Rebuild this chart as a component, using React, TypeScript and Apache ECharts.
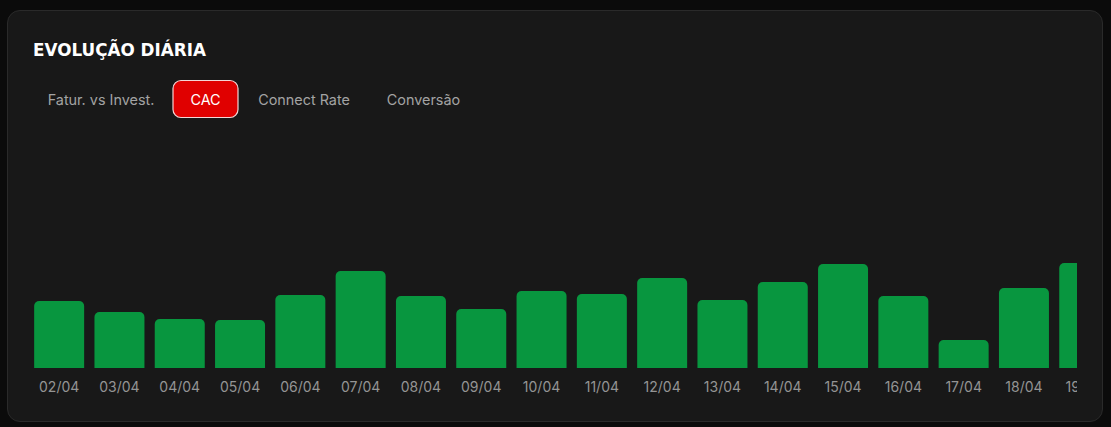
import React, { useEffect, useRef } from "react";
import * as echarts from "echarts";

const days = ["02/04","03/04","04/04","05/04","06/04","07/04","08/04","09/04","10/04","11/04","12/04","13/04","14/04","15/04","16/04","17/04","18/04","19/04"];
const cacValues = [67, 56, 49, 48, 73, 97, 72, 59, 77, 74, 90, 68, 86, 104, 72, 28, 80, 105];
const tabs = ["Fatur. vs Invest.", "CAC", "Connect Rate", "Conversão"];
const activeTab = "CAC";
const yMax = 240;

export default function App() {
  const ref = useRef<HTMLDivElement>(null);
  useEffect(() => {
    if (!ref.current) return;
    const chart = echarts.init(ref.current, null, { renderer: "svg" });
    const tabX = [32, 173, 241, 370];
    const tabW = [138, 65, 126, 107];
    const graphics: any[] = [];
    tabs.forEach((t, i) => {
      const active = t === activeTab;
      if (active) {
        graphics.push({
          type: "rect",
          shape: { x: tabX[i], y: 80.5, width: tabW[i], height: 37, r: 8 },
          style: { fill: "#e00000", stroke: "#f3d6d6", lineWidth: 1.2 },
        });
      }
      graphics.push({
        type: "text",
        x: tabX[i] + tabW[i] / 2,
        y: 99,
        style: {
          text: t,
          fill: active ? "#ffffff" : "#a3a3a3",
          font: '14.4px Inter, "Noto Sans", sans-serif',
          align: "center",
          verticalAlign: "middle",
        },
      });
    });
    graphics.push({
      type: "text",
      x: 33,
      y: 49.5,
      style: {
        text: "EVOLUÇÃO DIÁRIA",
        fill: "#ffffff",
        font: 'bold 16.8px "DejaVu Sans", sans-serif',
        align: "left",
        verticalAlign: "middle",
      },
    });
    chart.setOption({
      animation: false,
      backgroundColor: "transparent",
      graphic: graphics,
      grid: { left: 29, right: 1130 - 29 - 18 * 60.3, top: 128, bottom: 59 },
      xAxis: {
        type: "category",
        data: days,
        axisLine: { show: false },
        axisTick: { show: false },
        axisLabel: {
          color: "#949494",
          fontSize: 14,
          margin: 11,
          fontFamily: 'Inter, "Noto Sans", sans-serif',
          interval: 0,
        },
      },
      yAxis: {
        type: "value",
        min: 0,
        max: yMax,
        show: false,
        splitLine: { show: false },
      },
      series: [
        {
          type: "bar",
          data: cacValues,
          barWidth: 50,
          itemStyle: { color: "#08963f", borderRadius: [5, 5, 0, 0] },
        },
      ],
    });
    return () => chart.dispose();
  }, []);

  return (
    <div style={{ position: "fixed", left: 0, top: 0, width: 1111, height: 427, background: "#0b0b0b", overflow: "hidden" }}>
      <div
        style={{
          position: "absolute",
          left: 7,
          top: 10,
          width: 1096,
          height: 412,
          boxSizing: "border-box",
          background: "#181818",
          border: "1px solid #2a2a2a",
          borderRadius: 13,
        }}
      />
      <div style={{ position: "absolute", left: 0, top: 0, width: 1077, height: 427, overflow: "hidden" }}>
        <div ref={ref} style={{ width: 1130, height: 427 }} />
      </div>
    </div>
  );
}
